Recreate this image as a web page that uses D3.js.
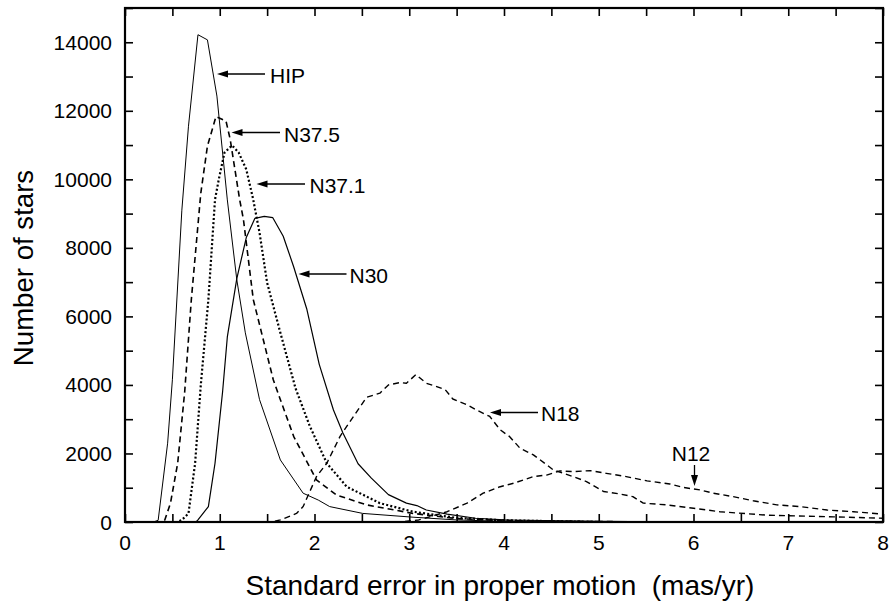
<!DOCTYPE html>
<html>
<head>
<meta charset="utf-8">
<script src="https://cdn.jsdelivr.net/npm/d3@7/dist/d3.min.js"></script>
<style>
  html, body { margin: 0; padding: 0; background: #fff; }
  svg { display: block; }
  text { font-family: "Liberation Sans", Arial, Helvetica, sans-serif; fill: #000; }
</style>
</head>
<body>
<svg id="chart" width="890" height="604"></svg>
<script>
// ---- data ----
const xTicks = [0, 1, 2, 3, 4, 5, 6, 7, 8];
const yTicks = [0, 2000, 4000, 6000, 8000, 10000, 12000, 14000];
const xTitle = "Standard error in proper motion  (mas/yr)";
const yTitle = "Number of stars";

const hipX = [0, 0.30, 0.35, 0.45, 0.50, 0.60, 0.67, 0.77, 0.87, 0.97, 1.08, 1.18, 1.27, 1.42, 1.64, 1.88, 2.04, 2.16, 2.51, 3.04, 3.5, 4.0, 5.0, 8.0];
const hipY = [0, 0, 50, 2300, 4150, 9100, 11550, 14220, 14070, 12430, 9400, 7070, 5520, 3570, 1810, 840, 640, 450, 250, 140, 60, 20, 0, 0];

const n375X = [0, 0.40, 0.42, 0.48, 0.556, 0.63, 0.70, 0.80, 0.87, 0.96, 1.066, 1.11, 1.21, 1.25, 1.354, 1.565, 1.64, 1.78, 2.02, 2.23, 2.55, 3.04, 3.5, 4.0, 5.0, 8.0];
const n375Y = [0, 0, 60, 550, 1715, 3800, 6490, 9600, 10970, 11830, 11700, 11170, 9410, 8830, 6490, 4150, 3570, 2500, 1230, 790, 500, 250, 100, 40, 10, 0];

const n371X = [0, 0.55, 0.60, 0.67, 0.74, 0.80, 0.88, 0.95, 0.99, 1.05, 1.13, 1.20, 1.28, 1.35, 1.42, 1.50, 1.64, 1.80, 1.95, 2.13, 2.34, 2.69, 3.04, 3.5, 4.0, 5.0, 8.0];
const n371Y = [0, 0, 60, 250, 1715, 4000, 6490, 9410, 10000, 10780, 10990, 10780, 10290, 9450, 8440, 6980, 5520, 3900, 2800, 1715, 1030, 550, 300, 120, 50, 0, 0];

const n30X = [0, 0.75, 0.77, 0.88, 0.95, 1.03, 1.08, 1.18, 1.28, 1.37, 1.47, 1.56, 1.67, 1.78, 1.92, 2.05, 2.20, 2.30, 2.46, 2.60, 2.78, 2.97, 3.08, 3.18, 3.40, 3.70, 4.0, 5.0, 6.0, 8.0];
const n30Y = [0, 0, 60, 450, 1715, 3800, 5400, 7100, 8300, 8860, 8920, 8880, 8340, 7450, 6200, 4600, 3270, 2600, 1700, 1280, 800, 550, 480, 350, 230, 110, 60, 20, 0, 0];

const n18X = [0, 1.55, 1.64, 1.81, 1.88, 2.02, 2.13, 2.27, 2.34, 2.55, 2.69, 2.78, 2.90, 2.97, 3.07, 3.18, 3.29, 3.38, 3.46, 3.61, 3.71, 3.85, 3.96, 4.06, 4.17, 4.31, 4.45, 4.52, 4.73, 4.87, 5.05, 5.22, 5.36, 5.47, 5.72, 6.00, 6.28, 6.77, 7.48, 8.0];
const n18Y = [0, 0, 60, 250, 450, 1320, 1715, 2500, 2790, 3640, 3760, 4000, 4070, 4050, 4300, 4050, 3950, 3860, 3590, 3420, 3270, 3080, 2690, 2490, 2150, 1960, 1670, 1520, 1325, 1180, 890, 820, 740, 550, 500, 400, 300, 200, 150, 110];

const n12X = [0, 2.90, 3.10, 3.25, 3.40, 3.61, 3.78, 3.96, 4.10, 4.31, 4.45, 4.59, 4.73, 4.91, 5.08, 5.29, 5.51, 5.75, 5.89, 6.07, 6.21, 6.42, 6.63, 6.88, 7.12, 7.41, 7.69, 8.0];
const n12Y = [0, 0, 60, 180, 300, 550, 840, 1030, 1130, 1325, 1370, 1490, 1470, 1500, 1420, 1325, 1200, 1110, 1010, 935, 840, 740, 620, 500, 450, 350, 300, 230];

const labels = ["HIP", "N37.5", "N37.1", "N30", "N18", "N12"];

// ---- layout ----
const svg = d3.select("#chart");
const L = 125, R = 883, T = 8, B = 522;
const x = d3.scaleLinear().domain([0, 8]).range([L, R]);
const y = d3.scaleLinear().domain([0, 15000]).range([B, T]);

svg.append("defs").append("clipPath").attr("id", "clip")
  .append("rect").attr("x", L).attr("y", T).attr("width", R - L).attr("height", B - T);

const series = [
  { xs: hipX,  ys: hipY,  w: 1.0, dash: null },
  { xs: n375X, ys: n375Y, w: 1.6, dash: "6,4" },
  { xs: n371X, ys: n371Y, w: 2.2, dash: "2,2.2" },
  { xs: n30X,  ys: n30Y,  w: 1.2, dash: null },
  { xs: n18X,  ys: n18Y,  w: 1.4, dash: "6,4" },
  { xs: n12X,  ys: n12Y,  w: 1.4, dash: "6,4" }
];

const line = d3.line().x(d => x(d[0])).y(d => y(d[1]));
const g = svg.append("g").attr("clip-path", "url(#clip)");
series.forEach(s => {
  const pts = s.xs.map((v, i) => [v, s.ys[i]]);
  g.append("path").attr("d", line(pts))
    .attr("fill", "none").attr("stroke", "#000")
    .attr("stroke-width", s.w)
    .attr("stroke-dasharray", s.dash)
    .attr("stroke-linejoin", "round");
});

// ---- axes: ticks inward on all four sides ----
const xMinor = d3.range(0, 8.01, 0.5);
const yMinor = d3.range(0, 15001, 1000);

const axB = d3.axisBottom(x).tickValues(xMinor).tickSize(-8).tickFormat("");
const axT = d3.axisTop(x).tickValues(xMinor).tickSize(-8).tickFormat("");
const axL = d3.axisLeft(y).tickValues(yMinor).tickSize(-8).tickFormat("");
const axR = d3.axisRight(y).tickValues(yMinor).tickSize(-8).tickFormat("");

function styleAx(sel) {
  sel.select(".domain").remove();
  sel.selectAll(".tick line").attr("stroke", "#000").attr("stroke-width", 1.6);
}
svg.append("g").attr("transform", `translate(0,${B})`).call(axB).call(styleAx);
svg.append("g").attr("transform", `translate(0,${T})`).call(axT).call(styleAx);
svg.append("g").attr("transform", `translate(${L},0)`).call(axL).call(styleAx);
svg.append("g").attr("transform", `translate(${R},0)`).call(axR).call(styleAx);

// frame
svg.append("rect").attr("x", L).attr("y", T).attr("width", R - L).attr("height", B - T)
  .attr("fill", "none").attr("stroke", "#000").attr("stroke-width", 2.2);

// tick labels
svg.append("g").selectAll("text").data(xTicks).join("text")
  .attr("x", d => x(d)).attr("y", 550)
  .attr("text-anchor", "middle").attr("font-size", 21).text(d => d);
svg.append("g").selectAll("text").data(yTicks).join("text")
  .attr("x", 112).attr("y", d => y(d)).attr("dy", "0.36em")
  .attr("text-anchor", "end").attr("font-size", 21).text(d => d);

// axis titles
svg.append("text").attr("x", 500).attr("y", 595)
  .style("white-space", "pre")
  .attr("text-anchor", "middle").attr("font-size", 28).text(xTitle);
svg.append("text").attr("transform", `translate(33,${(T + B) / 2 + 3}) rotate(-90)`)
  .attr("text-anchor", "middle").attr("font-size", 27.6).text(yTitle);

// ---- annotations (arrow geometry in pixels, labels from the list above) ----
const notePx = [
  { x0: 217,   x1: 265,   yy: 74,    tx: 270,   ty: 83 },
  { x0: 231.5, x1: 280,   yy: 132.5, tx: 284,   ty: 141.5 },
  { x0: 256.5, x1: 305,   yy: 184,   tx: 309.5, ty: 193 },
  { x0: 298.5, x1: 346.5, yy: 274,   tx: 349.5, ty: 283 },
  { x0: 490,   x1: 538,   yy: 412.5, tx: 541,   ty: 421 }
];
const ann = svg.append("g");
notePx.forEach((n, i) => {
  ann.append("line").attr("x1", n.x0 + 8).attr("x2", n.x1).attr("y1", n.yy).attr("y2", n.yy)
    .attr("stroke", "#000").attr("stroke-width", 1.3);
  ann.append("path")
    .attr("d", `M${n.x0},${n.yy} L${n.x0 + 11},${n.yy - 3.5} L${n.x0 + 11},${n.yy + 3.5} Z`)
    .attr("fill", "#000");
  ann.append("text").attr("x", n.tx).attr("y", n.ty).attr("font-size", 21).text(labels[i]);
});
// N12 (vertical arrow)
ann.append("line").attr("x1", 694.5).attr("x2", 694.5).attr("y1", 465).attr("y2", 477)
  .attr("stroke", "#000").attr("stroke-width", 1.3);
ann.append("path").attr("d", "M694.5,486 L691,475 L698,475 Z").attr("fill", "#000");
ann.append("text").attr("x", 691).attr("y", 461).attr("text-anchor", "middle")
  .attr("font-size", 21).text(labels[5]);
</script>
</body>
</html>
